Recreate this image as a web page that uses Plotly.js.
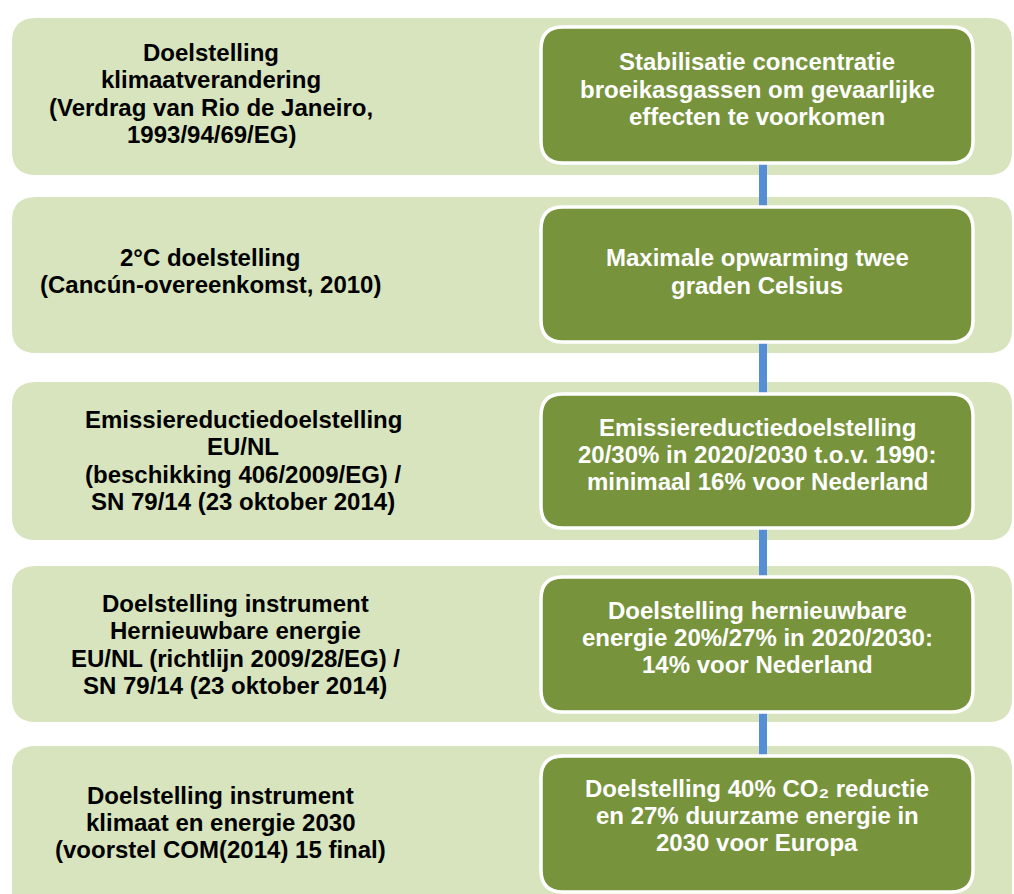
<!DOCTYPE html>
<html>
<head>
<meta charset="utf-8">
<script src="https://cdn.plot.ly/plotly-3.0.1.min.js"></script>
<style>html,body{margin:0;padding:0;background:#fff;}#chart{width:1014px;height:894px;}</style>
</head>
<body>
<div id="chart"></div>
<script>
// ---- content ----
const leftTexts = [
  ["Doelstelling", "klimaatverandering", "(Verdrag van Rio de Janeiro,", "1993/94/69/EG)"],
  ["2°C doelstelling", "(Cancún-overeenkomst, 2010)"],
  ["Emissiereductiedoelstelling", "EU/NL", "(beschikking 406/2009/EG) /", "SN 79/14 (23 oktober 2014)"],
  ["Doelstelling instrument", "Hernieuwbare energie", "EU/NL (richtlijn 2009/28/EG) /", "SN 79/14 (23 oktober 2014)"],
  ["Doelstelling instrument", "klimaat en energie 2030", "(voorstel COM(2014) 15 final)"]
];
const rightTexts = [
  ["Stabilisatie concentratie", "broeikasgassen om gevaarlijke", "effecten te voorkomen"],
  ["Maximale opwarming twee", "graden Celsius"],
  ["Emissiereductiedoelstelling", "20/30% in 2020/2030 t.o.v. 1990:", "minimaal 16% voor Nederland"],
  ["Doelstelling hernieuwbare", "energie 20%/27% in 2020/2030:", "14% voor Nederland"],
  ["Doelstelling 40% CO\u2082 reductie", "en 27% duurzame energie in", "2030 voor Europa"]
];

// ---- layout geometry (pixels) ----
const W = 1014, H = 894;
const bandTop = [18, 197, 382, 566, 746];
const bandBottom = [175, 353, 540, 722, 915];
const boxTop = [27, 207, 394, 577, 756];
const boxBottom = [163, 342, 528, 712, 892];
const bandX0 = 12, bandX1 = 1012, bandR = 24;
const boxX0 = 541, boxX1 = 973, boxR = 22;
const leftCX = [211, 210, 243, 235, 220];
const leftCY = [93.5, 271, 460.5, 644.5, 822.5];
const rightCX = 757;
const rightCY = [89, 271.5, 454.5, 637.5, 815.5];
const lineGap = 27.4;
const connX0 = 759, connX1 = 767;
const FS = 24;

const LIGHT = '#d7e4bd', DARK = '#77933c', BLUE = '#558ed5';
const FONT = 'Liberation Sans, Arial, sans-serif';

function rr(x0, y0, x1, y1, r) {
  return `M${x0+r},${y0} L${x1-r},${y0} Q${x1},${y0} ${x1},${y0+r} L${x1},${y1-r} Q${x1},${y1} ${x1-r},${y1} ` +
         `L${x0+r},${y1} Q${x0},${y1} ${x0},${y1-r} L${x0},${y0+r} Q${x0},${y0} ${x0+r},${y0} Z`;
}

const shapes = [];
const annotations = [];
function addLines(lines, cx, cy, color) {
  const n = lines.length;
  lines.forEach((t, k) => {
    annotations.push({xref: 'x', yref: 'y', x: cx, y: cy + (k - (n - 1) / 2) * lineGap,
      text: t, showarrow: false, align: 'center',
      xanchor: 'center', yanchor: 'middle',
      font: {family: FONT, size: FS, color: color, weight: 'bold'}});
  });
}
for (let i = 0; i < leftTexts.length; i++) {
  shapes.push({type: 'path', xref: 'x', yref: 'y', layer: 'below',
    path: rr(bandX0, bandTop[i], bandX1, bandBottom[i], bandR),
    fillcolor: LIGHT, line: {width: 0}});
}
for (let i = 0; i < leftTexts.length - 1; i++) {
  shapes.push({type: 'rect', xref: 'x', yref: 'y', layer: 'below',
    x0: connX0, x1: connX1, y0: boxBottom[i], y1: boxTop[i+1],
    fillcolor: BLUE, line: {width: 0}});
}
for (let i = 0; i < rightTexts.length; i++) {
  shapes.push({type: 'path', xref: 'x', yref: 'y', layer: 'below',
    path: rr(boxX0, boxTop[i], boxX1, boxBottom[i], boxR),
    fillcolor: DARK, line: {color: '#ffffff', width: 3.5}});
  addLines(leftTexts[i], leftCX[i], leftCY[i], '#000000');
  addLines(rightTexts[i], rightCX, rightCY[i], '#ffffff');
}

const layout = {
  width: W, height: H,
  margin: {l: 0, r: 0, t: 0, b: 0},
  paper_bgcolor: '#ffffff', plot_bgcolor: '#ffffff',
  xaxis: {range: [0, W], visible: false, fixedrange: true},
  yaxis: {range: [H, 0], visible: false, fixedrange: true},
  showlegend: false,
  shapes: shapes,
  annotations: annotations
};
Plotly.newPlot('chart', [], layout, {staticPlot: true, displayModeBar: false});
</script>
</body>
</html>
